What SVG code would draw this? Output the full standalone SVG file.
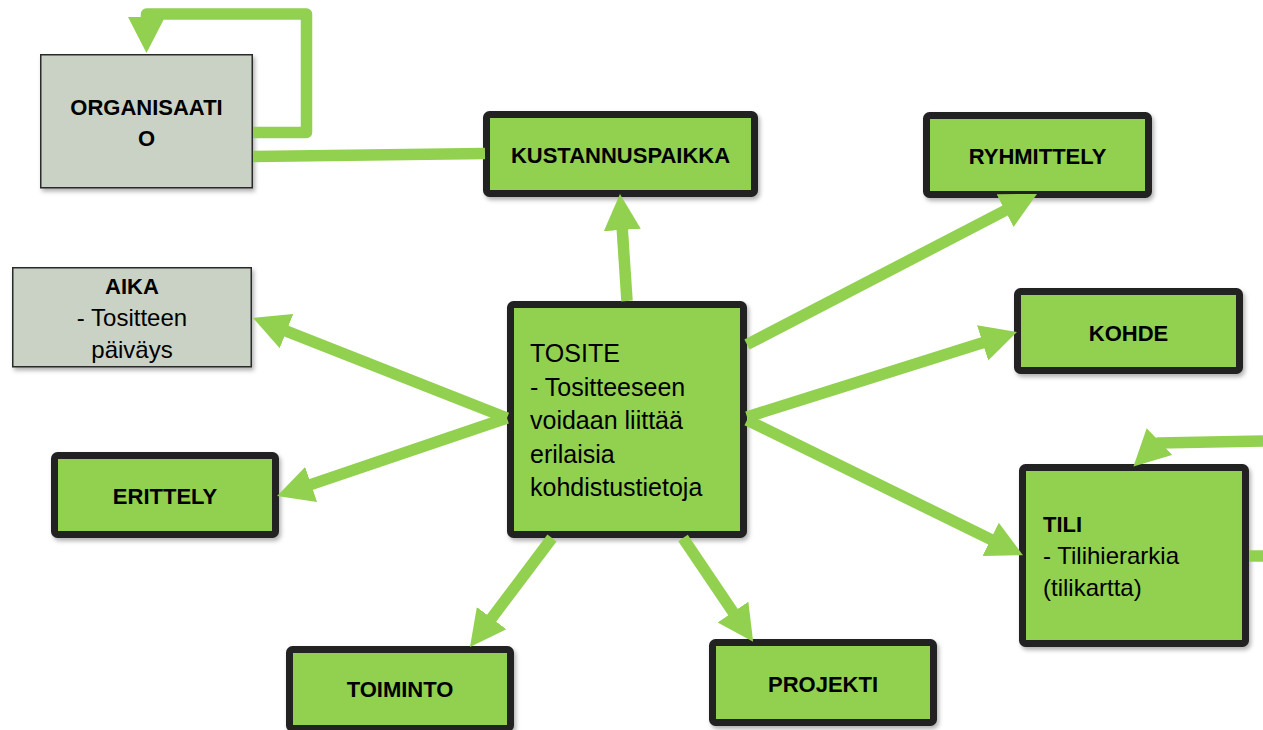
<svg xmlns="http://www.w3.org/2000/svg" width="1263" height="730" viewBox="0 0 1263 730">
<style>
.g{fill:#92D050;stroke:#222;stroke-width:7;filter:url(#sh)}
.gr{fill:#CAD2C6;stroke:#2b2b2b;stroke-width:1.5;filter:url(#sh)}
.b{font-family:"Liberation Sans",Arial,sans-serif;font-weight:bold;font-size:22px;fill:#000;text-anchor:middle}
.r{font-family:"Liberation Sans",Arial,sans-serif;font-size:25px;fill:#000}
.rc{font-family:"Liberation Sans",Arial,sans-serif;font-size:24px;fill:#000;text-anchor:middle}
.c{fill:none;stroke:#92D050;stroke-width:11.5;stroke-linejoin:round}
.a{marker-end:url(#ah)}
</style>
<defs>
<filter id="sh" x="-10%" y="-10%" width="125%" height="130%">
<feDropShadow dx="2" dy="3" stdDeviation="2" flood-color="#000" flood-opacity="0.3"/>
</filter>
<marker id="ah" markerUnits="userSpaceOnUse" markerWidth="36" markerHeight="38" refX="20" refY="18.5" orient="auto" viewBox="0 0 36 37">
<path d="M0,0 L36,18.5 L0,37 z" fill="#92D050"/>
</marker>
</defs>

<g id="node-organisaatio">
<rect class="gr" x="40.75" y="54.75" width="211.5" height="133"/>
<text class="b" x="146.5" y="115">ORGANISAATI</text>
<text class="b" x="146.5" y="146">O</text>
</g>
<g id="node-kustannuspaikka">
<rect class="g" x="486.5" y="114.5" width="268" height="79" rx="3"/>
<text class="b" x="620.5" y="163">KUSTANNUSPAIKKA</text>
</g>
<g id="node-ryhmittely">
<rect class="g" x="926.5" y="115.5" width="222" height="79" rx="3"/>
<text class="b" x="1037.5" y="164">RYHMITTELY</text>
</g>
<g id="node-aika">
<rect class="gr" x="12.75" y="267.75" width="238.5" height="99"/>
<text class="b" x="132" y="294">AIKA</text>
<text class="rc" x="132" y="326">- Tositteen</text>
<text class="rc" x="132" y="358">päiväys</text>
</g>
<g id="node-kohde">
<rect class="g" x="1017.5" y="291.5" width="222" height="79" rx="3"/>
<text class="b" x="1128.5" y="341">KOHDE</text>
</g>
<g id="node-tosite">
<rect class="g" x="510.5" y="304.5" width="233" height="230" rx="3"/>
<text class="r" x="530" y="362">TOSITE</text>
<text class="r" x="530" y="395.5">- Tositteeseen</text>
<text class="r" x="530" y="429">voidaan liittää</text>
<text class="r" x="530" y="462.5">erilaisia</text>
<text class="r" x="530" y="496">kohdistustietoja</text>
</g>
<g id="node-erittely">
<rect class="g" x="54.5" y="455.5" width="221" height="79" rx="3"/>
<text class="b" x="165" y="504">ERITTELY</text>
</g>
<g id="node-tili">
<rect class="g" x="1022.5" y="467.5" width="223" height="176" rx="3"/>
<text class="b" x="1043" y="532" style="text-anchor:start">TILI</text>
<text class="r" x="1043" y="564" style="font-size:24px">- Tilihierarkia</text>
<text class="r" x="1043" y="596" style="font-size:24px">(tilikartta)</text>
</g>
<g id="node-toiminto">
<rect class="g" x="289.5" y="649.5" width="221" height="79" rx="3"/>
<text class="b" x="400" y="697">TOIMINTO</text>
</g>
<g id="node-projekti">
<rect class="g" x="712.5" y="642.5" width="221" height="80" rx="3"/>
<text class="b" x="823" y="692">PROJEKTI</text>
</g>

<g id="connectors">
<path class="c a" d="M253,132.5 L306.5,132.5 L306.5,14 L146.5,14 L146.5,37"/>
<path class="c" d="M253,156.5 L485,153.5"/>
<path class="c a" d="M627,301 L621,210"/>
<path class="c a" d="M747,344.5 L1022.8,201.4"/>
<path class="c a" d="M747,417 L1001.7,336.8"/>
<path class="c a" d="M747,420 L1008.6,548.1"/>
<path class="c a" d="M507,418 L267.9,323.8"/>
<path class="c a" d="M507,418 L292.2,490.9"/>
<path class="c a" d="M552,538 L479.6,634.2"/>
<path class="c a" d="M683,538 L744.2,628.6"/>
<path class="c a" d="M1263,441 L1158,443 L1145,455.4"/>
<path class="c" d="M1249,556 L1263,556"/>
</g>
</svg>
